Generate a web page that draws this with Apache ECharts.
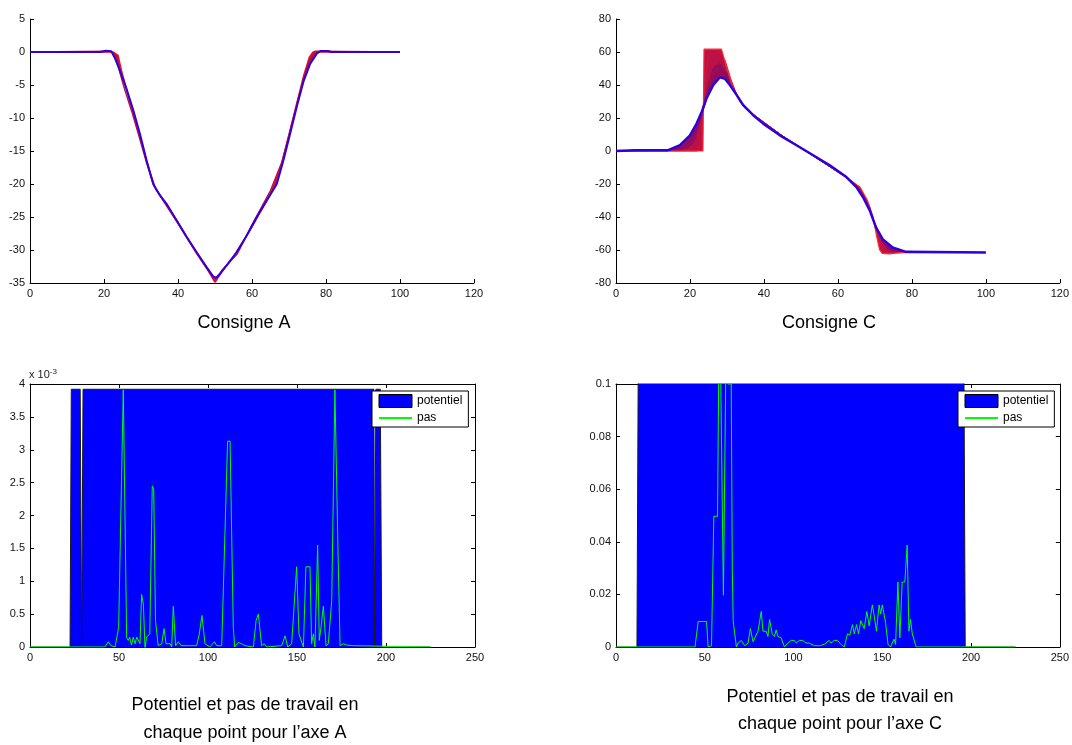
<!DOCTYPE html>
<html>
<head>
<meta charset="utf-8">
<script src="https://cdn.jsdelivr.net/npm/echarts@6.0.0/dist/echarts.min.js"></script>
<style>
  html, body { margin: 0; padding: 0; background: #fff; }
  #chart { width: 1072px; height: 745px; }
</style>
</head>
<body>
<div id="chart"></div>
<script>
// consigne A : trajectoires [x, y]
var consigneA_rouge = [[0,0],[22.5,0],[23.8,-0.5],[24.8,-3],[26.5,-6.5],[28,-9.5],[30,-13.5],[32,-17.5],[34,-20.8],[36,-22.5],[40,-26],[45,-30.5],[48,-33],[50,-34.9],[52,-33.2],[55,-31],[60,-26.5],[65,-21.5],[68,-17],[70,-12.5],[72,-8],[74,-3.5],[75.5,-0.8],[76.5,0],[100,0]];
var consigneA_milieu = [[0,0],[21.5,0.1],[22.8,-0.3],[24,-2.5],[25.5,-5.5],[27.5,-9],[29.5,-12.8],[31.5,-16.8],[33.5,-20.3],[35.5,-22],[40,-25.8],[45,-30.4],[48,-32.8],[50,-34.6],[52,-33],[56,-30.6],[60,-26.2],[65,-21],[68,-16.8],[70,-12.6],[72,-8.2],[74,-3.9],[75.5,-1.2],[77,0.1],[100,0]];
var consigneA_bleu = [[0,0],[19,0],[20.5,0.2],[22,0.1],[23,-1],[24.3,-2.8],[26.1,-5.6],[27.9,-8.8],[29.7,-12.4],[31.5,-16.4],[33.3,-20],[35.1,-21.7],[36.9,-23],[39.6,-25.5],[42.3,-28],[45,-30.3],[47.7,-32.6],[49.5,-34],[50.3,-34.2],[51.4,-33.6],[53.2,-32.3],[55.9,-30.3],[58.6,-27.8],[61.3,-25],[64,-22.5],[66.7,-20],[68.5,-16.4],[70.3,-12.4],[72.1,-8.3],[73.9,-4.5],[75.7,-1.8],[77.5,-0.25],[78.5,0.15],[80.5,0.15],[81.5,0],[100,0]];

// consigne C
var consigneC_rouge = [[0,0],[23.5,0],[23.8,61.7],[28.5,61.7],[30,50],[31.7,38],[33.5,30],[35,26],[38,20],[45,9],[55,-5],[62,-15.5],[66,-22],[68,-30],[69.5,-40],[70.5,-52],[71.3,-60],[72,-62],[74,-62.3],[75,-62],[77,-61.6],[100,-61.5]];
var consigneC_milieu1 = [[0,0],[22,0],[23,5],[24,40],[25,58],[28,60],[29.5,55],[31,44],[33,32],[35,26.5],[38,20.5],[45,9.2],[62,-15.6],[66,-23],[68.5,-33],[70,-45],[71.5,-58],[72.5,-61.5],[74,-61.8],[76,-61.6],[100,-61.5]];
var consigneC_milieu2 = [[0,0],[18,0.3],[20,2],[21.5,6],[23,20],[24.5,38],[26,50],[28,54],[30,48],[32,37],[34,29],[36,24],[45,9.2],[62,-15.6],[66,-22.5],[68.5,-34],[70,-44],[72,-56],[73.5,-60],[75,-61.2],[77,-61.4],[100,-61.5]];
var consigneC_milieu3 = [[0,0],[15,0.5],[18,2],[20,6],[22,14],[23.5,24],[25,36],[27,46],[28.5,49],[30,45],[32,36],[34,29],[36,24],[45,9.2],[62,-15.7],[66,-22.2],[68.5,-35],[70,-45],[72,-54.5],[74,-59],[76,-61],[100,-61.5]];
var consigneC_bleu = [[0,0],[5,0.5],[14,0.5],[14.6,1],[17.3,3.5],[20,9.5],[21.8,16.6],[23.2,23.8],[24.5,32],[26.3,40],[28.1,44.7],[29.5,43.7],[30.8,40],[32.6,34],[34.4,27.8],[37.1,21.7],[39.8,16.6],[44.3,9.5],[48.8,3.5],[53.3,-2.6],[57.8,-8.7],[62.3,-15.8],[65,-21.9],[66.8,-28],[68.6,-36],[70.3,-46.3],[72.1,-53.4],[74.8,-58.5],[78.4,-61.1],[100,-61.5]];

// axe A : potentiel et pas (x 10^-3)
var potentielA = [[0,0],[22.5,0],[23.2,3.92],[28.2,3.92],[29,0],[29.8,3.92],[193.2,3.92],[193.6,0],[194.3,3.92],[196.8,3.92],[197.6,0],[225,0]];
var pasA = [[0,0],[42,0],[44,0.08],[45.5,0.02],[47.8,0],[49.8,0.3],[52.4,3.91],[54.3,0.15],[55.2,0.1],[56,0.15],[57,0.03],[58,0.15],[59,0.05],[60,0.15],[61,0.15],[61.8,0.05],[62.7,0.8],[63.7,0.65],[64.6,-0.02],[65.5,0.15],[66.5,0.15],[67.3,0.2],[68.7,2.45],[69.5,2.4],[70.5,0.4],[72,0.02],[74,0.05],[75.3,0.28],[76.4,0.05],[78.7,0.05],[79.6,0],[80.5,0.62],[81.8,0.02],[83.3,0.08],[85,0.02],[93.6,0.02],[95,0.18],[96.6,0.48],[98.3,0.05],[101,0],[103.6,0.08],[104.9,0.02],[107.7,0.02],[108.6,0.05],[111,3.13],[112.4,3.13],[114.2,0.3],[115,0],[117,0.07],[118.9,0.05],[120.8,0.02],[125.5,0],[127,0.4],[128.3,0.5],[130.1,0.02],[131.6,0.05],[133,0],[141.4,0.02],[143.3,0.17],[144.8,0],[147,0.05],[149.8,1.22],[151.1,0.2],[153.6,0],[155,1.22],[157.3,1.22],[158.2,0.05],[159.2,0.2],[160.1,0],[161.6,1.55],[162.5,0.1],[163.5,0.3],[164.8,0.62],[166.3,0.02],[167.6,0.05],[169.5,0.7],[171.3,3.91],[173,1.5],[174.2,0.02],[176,0.05],[177.9,0.03],[181.6,0.02],[182.5,0],[225,0]];

// axe C : potentiel et pas
var potentielC = [[0,0],[11.8,0],[12.6,0.12],[195.9,0.12],[196.7,0],[225,0]];
var pasC = [[0,0],[44.5,0],[45.5,0.0005],[46.3,0.0097],[51,0.0097],[51.9,0],[53.8,0.0005],[55.1,0.0497],[57.2,0.0497],[58.3,0.14],[60.5,0.0197],[62.4,0.14],[63,0.1],[64.9,0.1],[65.5,0.03],[66,0.01],[67.8,0],[68.8,0.0015],[69.7,0.001],[70.6,0.0025],[72.5,0.0005],[74.4,0.0015],[75.7,0.007],[77.2,0.002],[80,0.006],[80.9,0.0065],[81.8,0.0135],[82.8,0.006],[84.6,0.006],[85.6,0.004],[86.5,0.0105],[88,0.005],[89.3,0.004],[90.2,0.0065],[91.2,0.004],[93,0.0035],[94.9,0],[96.8,0.0015],[98.7,0.0025],[100.5,0.0025],[101.5,0.0015],[103.3,0.0025],[105.2,0.0025],[107,0.0015],[108.9,0.0015],[111.7,0.0005],[114.5,0.0005],[117.3,0.001],[118.3,0.0015],[120.1,0.0025],[121.1,0.0015],[122.9,0.0025],[124.8,0.0025],[126.7,0.001],[128.6,0],[130.4,0.005],[131.7,0.0045],[133.2,0.0085],[134.2,0.005],[135.5,0.0085],[136.6,0.005],[137.9,0.01],[139.8,0.007],[141.3,0.0135],[142.6,0.008],[144.4,0.016],[145.4,0.012],[146.7,0.006],[148.2,0.016],[149.1,0.0125],[150,0.016],[151.9,0.009],[153.2,0.001],[154.7,0],[156.6,0.003],[157.5,0.001],[158.8,0.0247],[159.9,0.0035],[161.2,0.0247],[162.7,0.0247],[164,0.0387],[165,0.006],[165.9,0.0105],[166.9,0.005],[167.8,0.0045],[169.1,0],[225,0]];

var police = 'Liberation Sans, Arial, sans-serif';

var myChart = echarts.init(document.getElementById('chart'));

function axeX(grid, min, max, interval, position, showLabel) {
    return {
        type: 'value', gridIndex: grid, min: min, max: max, interval: interval,
        position: position || 'bottom',
        axisLine: { onZero: false, lineStyle: { color: '#000', width: 1 } },
        axisTick: { inside: true, length: 4, lineStyle: { color: '#000' } },
        axisLabel: { show: showLabel !== false, color: '#111', fontSize: 11, fontFamily: police, margin: 5 },
        splitLine: { show: false }
    };
}
function axeY(grid, min, max, interval, position, showLabel) {
    return {
        type: 'value', gridIndex: grid, min: min, max: max, interval: interval,
        position: position || 'left',
        axisLine: { show: true, onZero: false, lineStyle: { color: '#000', width: 1 } },
        axisTick: { show: true, inside: true, length: 4, lineStyle: { color: '#000' } },
        axisLabel: { show: showLabel !== false, color: '#111', fontSize: 11, fontFamily: police, margin: 5 },
        splitLine: { show: false }
    };
}
function trace(nom, data, couleur, largeur, xi, yi) {
    return {
        name: nom, type: 'line', data: data, xAxisIndex: xi, yAxisIndex: yi,
        symbol: 'none', lineStyle: { color: couleur, width: largeur },
        itemStyle: { color: couleur }, silent: true
    };
}
// remplissage entre deux trajectoires (faisceau de courbes)
function bande(haut, bas, couleur, xi, yi) {
    return {
        type: 'custom', xAxisIndex: xi, yAxisIndex: yi, data: [0], silent: true,
        renderItem: function (params, api) {
            var pts = haut.map(function (p) { return api.coord(p); })
                .concat(bas.slice().reverse().map(function (p) { return api.coord(p); }));
            return { type: 'polygon', shape: { points: pts }, style: { fill: couleur, stroke: null } };
        }
    };
}
function legende(gauche) {
    return {
        left: gauche, top: 391, orient: 'vertical',
        itemWidth: 33, itemHeight: 13, itemGap: 4,
        padding: [3, 6, 3, 6],
        backgroundColor: '#fff', borderColor: '#000', borderWidth: 1,
        textStyle: { color: '#000', fontSize: 12, fontFamily: police },
        selectedMode: false,
        data: [
            { name: 'potentiel', icon: 'rect', itemStyle: { color: '#0000ff', borderColor: '#000', borderWidth: 1 } },
            { name: 'pas', itemStyle: { color: 'rgba(0,0,0,0)', opacity: 0, borderWidth: 0 } }
        ]
    };
}

var option = {
    animation: false,
    backgroundColor: '#fff',
    grid: [
        { left: 30, top: 19, width: 444, height: 264 },
        { left: 616, top: 19, width: 445, height: 264 },
        { left: 30, top: 384, width: 445, height: 263 },
        { left: 616, top: 384, width: 446, height: 263 }
    ],
    xAxis: [
        axeX(0, 0, 120, 20),
        axeX(1, 0, 120, 20),
        axeX(2, 0, 250, 50),
        axeX(2, 0, 250, 50, 'top', false),
        axeX(3, 0, 250, 50),
        axeX(3, 0, 250, 50, 'top', false)
    ],
    yAxis: [
        axeY(0, -35, 5, 5),
        axeY(1, -80, 80, 20),
        axeY(2, 0, 4, 0.5),
        axeY(2, 0, 4, 0.5, 'right', false),
        axeY(3, 0, 0.1, 0.02),
        axeY(3, 0, 0.1, 0.02, 'right', false)
    ],
    legend: [legende(372), legende(958)],
    series: [
        bande(consigneA_rouge, consigneA_bleu, '#b8104c', 0, 0),
        trace('A1', consigneA_rouge, '#ee1020', 1.5, 0, 0),
        trace('A2', consigneA_milieu, '#b8104c', 1.5, 0, 0),
        trace('A3', consigneA_bleu, '#3000d8', 2, 0, 0),

        bande(consigneC_rouge, consigneC_milieu2, '#bc1046', 1, 1),
        bande(consigneC_milieu2, consigneC_bleu, '#980c58', 1, 1),
        trace('C2', consigneC_milieu1, '#d0143e', 1, 1, 1),
        trace('C3', consigneC_milieu2, '#a80a52', 1, 1, 1),
        trace('C4', consigneC_milieu3, '#880868', 1, 1, 1),
        trace('C1', consigneC_rouge, '#ff2a2a', 1.2, 1, 1),
        trace('C5', consigneC_bleu, '#3000d8', 2.5, 1, 1),

        {
            name: 'potentiel', type: 'line', data: potentielA, xAxisIndex: 2, yAxisIndex: 2,
            symbol: 'none', lineStyle: { color: '#1a1a1a', width: 1 },
            itemStyle: { color: '#0000ff' }, areaStyle: { color: '#0000ff', opacity: 1 }
        },
        trace('pas', pasA, '#00ff00', 1, 2, 2),

        {
            name: 'potentiel', type: 'line', data: potentielC, xAxisIndex: 4, yAxisIndex: 4,
            symbol: 'none', lineStyle: { color: '#1a1a1a', width: 1 },
            itemStyle: { color: '#0000ff' }, areaStyle: { color: '#0000ff', opacity: 1 }
        },
        trace('pas', pasC, '#00ff00', 1, 4, 4)
    ],
    graphic: [
        { type: 'text', x: 244, y: 323, style: { text: 'Consigne A', font: '18px ' + police, fill: '#000', textAlign: 'center', textVerticalAlign: 'middle' } },
        { type: 'text', x: 829, y: 323, style: { text: 'Consigne C', font: '18px ' + police, fill: '#000', textAlign: 'center', textVerticalAlign: 'middle' } },
        { type: 'text', x: 245, y: 719, style: { text: 'Potentiel et pas de travail en\nchaque point pour l’axe A', font: '18px ' + police, lineHeight: 28, fill: '#000', textAlign: 'center', textVerticalAlign: 'middle' } },
        { type: 'text', x: 840, y: 711, style: { text: 'Potentiel et pas de travail en\nchaque point pour l’axe C', font: '18px ' + police, lineHeight: 27, fill: '#000', textAlign: 'center', textVerticalAlign: 'middle' } },
        {
            type: 'text', x: 29, y: 368,
            style: {
                text: 'x 10{sup|-3}', fill: '#222', font: '11px ' + police,
                rich: { sup: { fontSize: 8, fontFamily: police, verticalAlign: 'top', padding: [0, 0, 6, 0], fill: '#222' } }
            }
        }
    ]
};

myChart.setOption(option);
</script>
</body>
</html>
